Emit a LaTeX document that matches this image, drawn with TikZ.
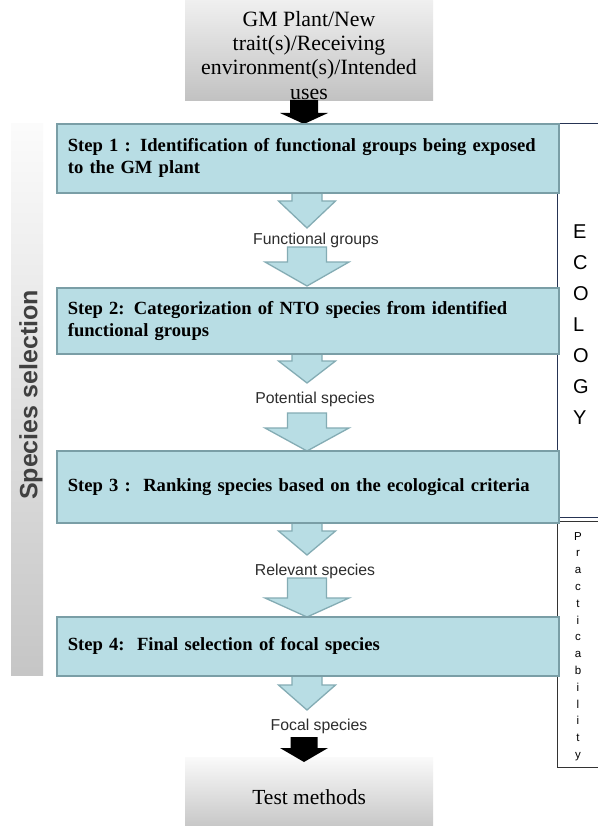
\documentclass[tikz,border=0pt]{standalone}
\usepackage{fontspec}
\setmainfont{Liberation Serif}
\setsansfont{Liberation Sans}
\definecolor{stepfill}{RGB}{184,221,228}
\definecolor{stepedge}{RGB}{122,158,166}
\definecolor{arrowedge}{RGB}{132,172,180}
\definecolor{ecoedge}{RGB}{38,52,84}
\definecolor{labelgray}{RGB}{45,45,45}
% block arrow: centre x, top y, head y, tip y, half shaft width, half head width
\newcommand{\hollowarrow}[6]{%
  \draw[hollow] (#1-#5,#2) -- (#1-#5,#3) -- (#1-#6,#3) -- (#1,#4)
    -- (#1+#6,#3) -- (#1+#5,#3) -- (#1+#5,#2) -- cycle;}
\newcommand{\solidarrow}[6]{%
  \fill[black] (#1-#5,#2) -- (#1-#5,#3) -- (#1-#6,#3) -- (#1,#4)
    -- (#1+#6,#3) -- (#1+#5,#3) -- (#1+#5,#2) -- cycle;}
\begin{document}
\begin{tikzpicture}[x=1pt,y=-1pt,
  stepbox/.style={draw=stepedge, line width=1.7pt, fill=stepfill,
    minimum width=502pt, inner xsep=11pt, inner ysep=0pt, text width=480pt,
    align=left, anchor=north west,
    font=\fontsize{18.6}{22}\selectfont\bfseries},
  hollow/.style={draw=arrowedge, line width=1.3pt, fill=stepfill, line join=miter},
  flowlabel/.style={font=\sffamily\fontsize{15.8}{18}\selectfont, text=labelgray,
    anchor=base, inner sep=0pt},
  graybox/.style={anchor=north west, inner sep=0pt, minimum width=248pt},
  sidebox/.style={anchor=north west, inner sep=0pt, minimum width=60pt},
]
\useasboundingbox (0,0) rectangle (597,826);
\fill[white] (0,0) rectangle (597,826);

% input and output boxes
\node[graybox, minimum height=100pt, top color=gray!12, bottom color=gray!48] (top) at (185,0) {};
\node[anchor=north, inner sep=0pt, align=center, font=\fontsize{21.8}{24.3}\selectfont]
  (topt) at (309,11) {GM Plant/New\\trait(s)/Receiving\\environment(s)/Intended\\uses};
\node[graybox, minimum height=80pt, top color=gray!4, bottom color=gray!50,
  font=\fontsize{21.5}{24}\selectfont] (test) at (185,757) {Test methods};

% species selection band
\node[anchor=north west, inner sep=0pt, minimum width=32pt, minimum height=552pt,
  top color=gray!3, bottom color=gray!45] (band) at (11,123) {};
\node[rotate=90, font=\sffamily\bfseries\fontsize{25}{28}\selectfont, text=black!75,
  inner sep=0pt] (bandt) at (31,395) {Species selection};

% side frames
\node[sidebox, draw=ecoedge, line width=1pt, minimum height=394pt] (eco) at (557,123) {};
\node[anchor=north west, inner sep=0pt, align=left,
  font=\sffamily\fontsize{20}{31}\selectfont] (ecot) at (573,225)
  {E\\C\\O\\L\\O\\G\\Y};
\node[sidebox, draw=black!80, line width=1pt, minimum height=246pt] (prac) at (557,521) {};
\node[anchor=north, inner sep=0pt, align=center,
  font=\sffamily\fontsize{11.5}{16.8}\selectfont] (pract) at (578,532)
  {P\\r\\a\\c\\t\\i\\c\\a\\b\\i\\l\\i\\t\\y};

% arrows between the steps
\solidarrow{304}{100}{113}{124}{14}{24}
\hollowarrow{307}{190}{201}{228}{15}{28.5}
\hollowarrow{307}{247}{262}{286}{19.5}{42}
\hollowarrow{307}{351}{361}{383}{15}{28.5}
\hollowarrow{307}{413}{428}{451}{19.5}{42}
\hollowarrow{307}{520}{531}{555}{15}{28.5}
\hollowarrow{307}{578}{598}{617}{19.5}{42}
\hollowarrow{307}{673}{685}{710}{15}{28.5}
\solidarrow{304}{737}{748}{762}{13.5}{24}

% steps
\node[stepbox, minimum height=69pt] (s1) at (56,123)
  {Step 1 : Identification of functional groups being exposed\\to the GM plant};
\node[stepbox, minimum height=66pt] (s2) at (56,287)
  {Step 2: Categorization of NTO species from identified\\functional groups};
\node[stepbox, minimum height=72pt] (s3) at (56,450)
  {Step 3 :\ \ Ranking species based on the ecological criteria};
\node[stepbox, minimum height=59pt] (s4) at (56,616)
  {Step 4:\ \ Final selection of focal species};

% flow labels
\node[flowlabel] (l1) at (316,244) {Functional groups};
\node[flowlabel] (l2) at (315,403) {Potential species};
\node[flowlabel] (l3) at (315,575) {Relevant species};
\node[flowlabel] (l4) at (319,730) {Focal species};
\end{tikzpicture}
\end{document}
